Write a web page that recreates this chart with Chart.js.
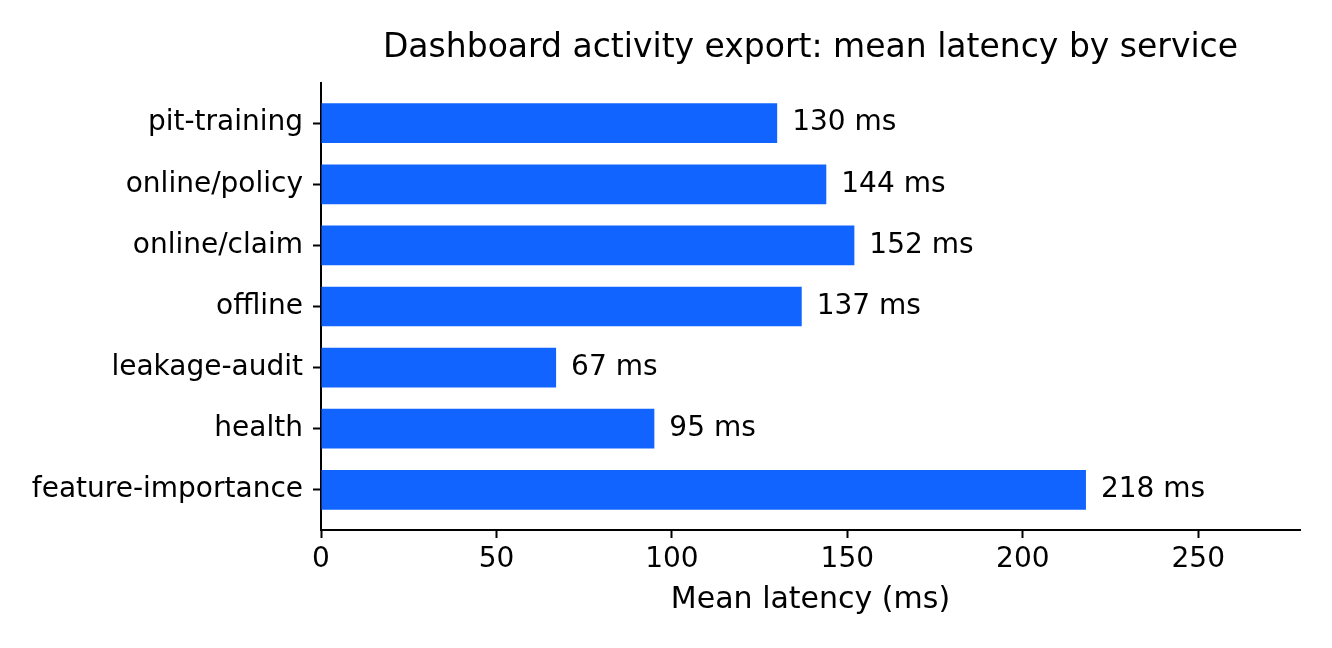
<!DOCTYPE html>
<html>
<head>
<meta charset="utf-8">
<script src="https://cdn.jsdelivr.net/npm/chart.js@4"></script>
<style>
  html, body { margin: 0; padding: 0; background: #fff; }
  #wrap { width: 1332px; height: 648px; }
</style>
</head>
<body>
<div id="wrap"><canvas id="latencyChart"></canvas></div>
<script>
// Chart data (top to bottom)
const services = ["pit-training", "online/policy", "online/claim", "offline", "leakage-audit", "health", "feature-importance"];
const meanLatency = [130, 144, 152, 137, 67, 95, 218];
const xTicks = [0, 50, 100, 150, 200, 250];

const chartTitle = "Dashboard activity export: mean latency by service";
const FONT = "'DejaVu Sans', sans-serif";

// Draw the title centred over the plot area
const titlePlugin = {
  id: "plotTitle",
  afterDraw(chart) {
    const { ctx, chartArea } = chart;
    ctx.save();
    ctx.font = "33px " + FONT;
    ctx.fillStyle = "#000";
    ctx.textAlign = "center";
    ctx.textBaseline = "middle";
    ctx.fillText(chartTitle, (chartArea.left + chartArea.right) / 2, 48);
    ctx.restore();
  },
};

// Value labels at the end of each bar
const valueLabels = {
  id: "valueLabels",
  afterDatasetsDraw(chart) {
    const { ctx } = chart;
    const meta = chart.getDatasetMeta(0);
    ctx.save();
    ctx.font = "28px " + FONT;
    ctx.fillStyle = "#000";
    ctx.textAlign = "left";
    ctx.textBaseline = "middle";
    meta.data.forEach((bar, i) => {
      ctx.fillText(meanLatency[i] + " ms", bar.x + 15, bar.y);
    });
    ctx.restore();
  },
};

function initLatencyChart() {
  const ctx = document.getElementById("latencyChart");

  new Chart(ctx, {
    type: "bar",
    data: {
      datasets: [
        {
          data: meanLatency.map((v, i) => ({ x: v, y: i })),
          backgroundColor: "#1164ff",
          borderWidth: 0,
          barPercentage: 0.65,
          categoryPercentage: 1,
        },
      ],
    },
    options: {
      indexAxis: "y",
      responsive: true,
      maintainAspectRatio: false,
      animation: false,
      layout: { padding: { top: 83, right: 32, left: 0, bottom: 0 } },
      plugins: {
        legend: { display: false },
        tooltip: { enabled: false },
      },
      scales: {
        x: {
          type: "linear",
          min: 0,
          max: 279,
          afterBuildTicks: (scale) => {
            scale.ticks = xTicks.map((v) => ({ value: v }));
          },
          afterFit: (scale) => {
            scale.height = 118;
          },
          grid: { drawOnChartArea: false, tickLength: 8, tickColor: "#000", tickWidth: 2 },
          border: { color: "#000", width: 2 },
          ticks: { color: "#000", font: { family: FONT, size: 28 }, padding: 5, maxRotation: 0 },
          title: {
            display: true,
            text: "Mean latency (ms)",
            color: "#000",
            font: { family: FONT, size: 30 },
            padding: { top: 4, bottom: 30 },
          },
        },
        y: {
          type: "linear",
          reverse: true,
          min: -0.6575,
          max: 6.6575,
          offset: false,
          afterBuildTicks: (scale) => {
            scale.ticks = services.map((s, i) => ({ value: i }));
          },
          afterFit: (scale) => {
            scale.width = 321;
          },
          grid: { offset: false, drawOnChartArea: false, tickLength: 8, tickColor: "#000", tickWidth: 2 },
          border: { color: "#000", width: 2 },
          ticks: {
            color: "#000",
            font: { family: FONT, size: 28 },
            padding: 10,
            callback: (value) => services[value],
          },
        },
      },
    },
    plugins: [titlePlugin, valueLabels],
  });
}

initLatencyChart();
</script>
</body>
</html>
